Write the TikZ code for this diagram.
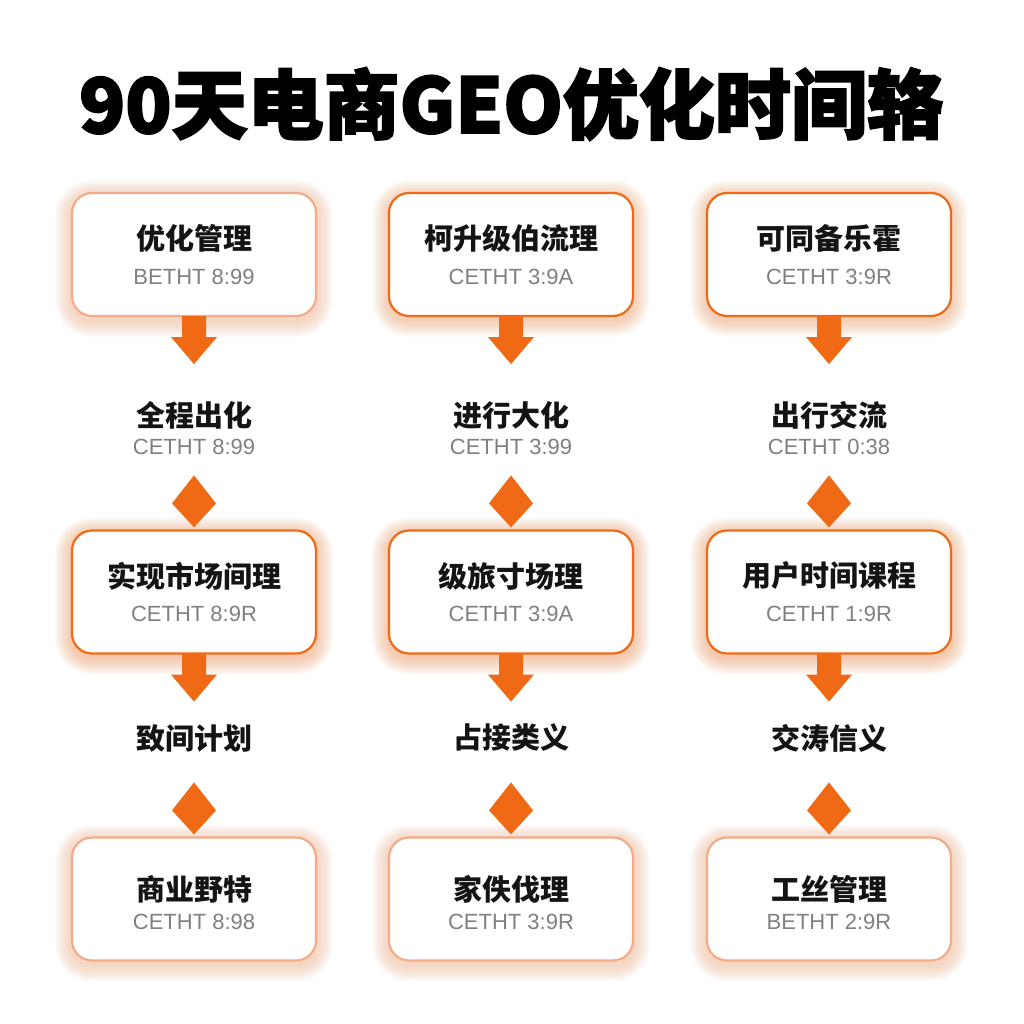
\documentclass[tikz,border=0pt]{standalone}
\usepackage{fontspec}
\newfontfamily\cjk{Noto Sans CJK SC}
\newfontfamily\titlef[BoldFeatures={FakeBold=2.5}]{Noto Sans CJK SC}
\newfontfamily\subf{Liberation Sans}
\usetikzlibrary{calc,backgrounds}
\definecolor{org}{RGB}{240,106,22}
\definecolor{peach}{RGB}{244,172,136}
\definecolor{glowc}{RGB}{246,130,60}
\definecolor{subg}{RGB}{128,128,128}
\tikzset{
  box/.style={draw=#1, line width=2.2pt, rounded corners=20pt, fill=white,
    minimum width=244pt, minimum height=123pt, inner sep=0pt},
  ttl/.style={font=\cjk\bfseries\fontsize{29}{29}\selectfont, text=black!92, inner sep=0pt},
  subt/.style={font=\subf\fontsize{22}{22}\selectfont, text=subg, inner sep=0pt},
  flow/.style={fill=org},
}
\newcommand\glowbox[2]{%
  \foreach \i in {1,...,16}{%
    \pgfmathsetmacro\rr{20+\i}%
    \fill[glowc, opacity=#2, rounded corners=\rr pt]
      ($(#1.south west)+(-\i,\i+4)$) rectangle ($(#1.north east)+(\i,-\i+4)$);
  }%
}
\newcommand\flowdown[1]{%
  \fill[flow] ($(#1.south)+(-12,-1)$) -- ($(#1.south)+(-12,20)$) -- ($(#1.south)+(-23,20)$)
    -- ($(#1.south)+(0,47)$) -- ($(#1.south)+(23,20)$) -- ($(#1.south)+(12,20)$)
    -- ($(#1.south)+(12,-1)$) -- cycle;%
}
\newcommand\flowdiamond[1]{%
  \fill[flow] ($(#1.north)+(0,-54)$) -- ($(#1.north)+(22,-26)$) -- ($(#1.north)+(0,-2)$)
    -- ($(#1.north)+(-22,-26)$) -- cycle;%
}
\begin{document}
\begin{tikzpicture}[x=1pt,y=-1pt]
\useasboundingbox (0,0) rectangle (1024,1024);

\node[font=\titlef\bfseries\fontsize{76}{76}\selectfont, inner sep=0pt] (title) at (511,104) {90天电商GEO优化时间辂};

% row 1 boxes
\node[box=peach] (b11) at (194,254.5) {};
\node[box=org]   (b12) at (511,254.5) {};
\node[box=org]   (b13) at (829,254.5) {};
% row 2 boxes
\node[box=org] (b21) at (194,592) {};
\node[box=org] (b22) at (511,592) {};
\node[box=org] (b23) at (829,592) {};
% row 3 boxes
\node[box=peach] (b31) at (194,899) {};
\node[box=peach] (b32) at (511,899) {};
\node[box=peach] (b33) at (829,899) {};

\begin{scope}[on background layer]
  \fill[white] (0,0) rectangle (1024,1024);
  \glowbox{b11}{0.018}\glowbox{b12}{0.022}\glowbox{b13}{0.022}
  \glowbox{b21}{0.026}\glowbox{b22}{0.026}\glowbox{b23}{0.026}
  \glowbox{b31}{0.018}\glowbox{b32}{0.018}\glowbox{b33}{0.018}
\end{scope}

% box texts row 1
\node[ttl]  (t11) at (194,238) {优化管理};
\node[subt] (s11) at (194,277) {BETHT 8:99};
\node[ttl]  (t12) at (511,238) {柯升级伯流理};
\node[subt] (s12) at (511,277) {CETHT 3:9A};
\node[ttl]  (t13) at (829,238) {可同备乐霍};
\node[subt] (s13) at (829,277) {CETHT 3:9R};
% middle texts 1
\node[ttl]  (m11) at (194,415) {全程出化};
\node[subt] (n11) at (194,447) {CETHT 8:99};
\node[ttl]  (m12) at (511,415) {进行大化};
\node[subt] (n12) at (511,447) {CETHT 3:99};
\node[ttl]  (m13) at (829,415) {出行交流};
\node[subt] (n13) at (829,447) {CETHT 0:38};
% box texts row 2
\node[ttl]  (t21) at (194,576) {实现市场间理};
\node[subt] (s21) at (194,614) {CETHT 8:9R};
\node[ttl]  (t22) at (511,576) {级旅寸场理};
\node[subt] (s22) at (511,614) {CETHT 3:9A};
\node[ttl]  (t23) at (829,576) {用户时间课程};
\node[subt] (s23) at (829,614) {CETHT 1:9R};
% middle texts 2
\node[ttl] (m21) at (194,738) {致间计划};
\node[ttl] (m22) at (511,738) {占接类义};
\node[ttl] (m23) at (829,738) {交涛信义};
% box texts row 3
\node[ttl]  (t31) at (194,889) {商业野特};
\node[subt] (s31) at (194,922) {CETHT 8:98};
\node[ttl]  (t32) at (511,889) {家佚伐理};
\node[subt] (s32) at (511,922) {CETHT 3:9R};
\node[ttl]  (t33) at (829,889) {工丝管理};
\node[subt] (s33) at (829,922) {BETHT 2:9R};

% connectors
\flowdown{b11}\flowdown{b12}\flowdown{b13}
\flowdiamond{b21}\flowdiamond{b22}\flowdiamond{b23}
\flowdown{b21}\flowdown{b22}\flowdown{b23}
\flowdiamond{b31}\flowdiamond{b32}\flowdiamond{b33}
\end{tikzpicture}
\end{document}
